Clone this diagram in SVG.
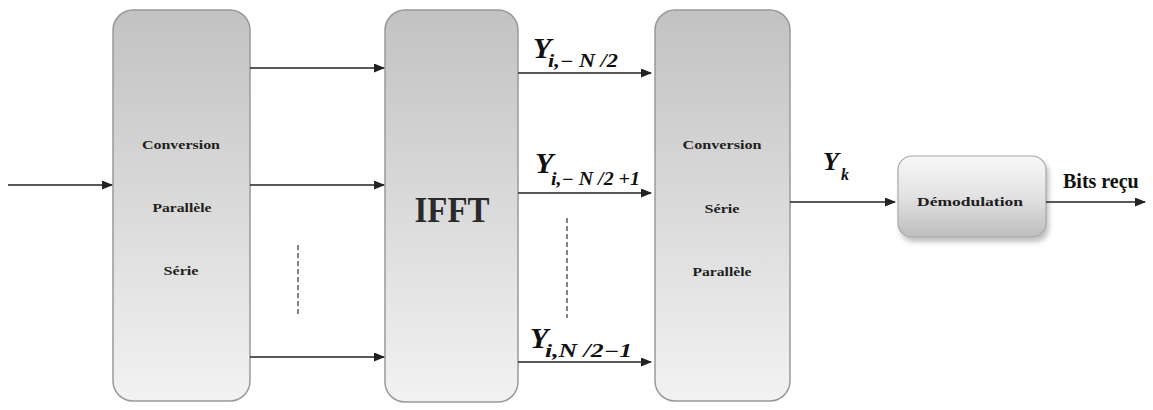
<svg xmlns="http://www.w3.org/2000/svg" width="1153" height="410" viewBox="0 0 1153 410">
<defs>
<linearGradient id="gBox" x1="0" y1="0" x2="0" y2="1">
<stop offset="0" stop-color="#c2c2c2"/>
<stop offset="1" stop-color="#f2f2f2"/>
</linearGradient>
<linearGradient id="gDemod" x1="0" y1="0" x2="0" y2="1">
<stop offset="0" stop-color="#f8f8f8"/>
<stop offset="0.5" stop-color="#e2e2e2"/>
<stop offset="1" stop-color="#bdbdbd"/>
</linearGradient>
<filter id="shadow" x="-10%" y="-10%" width="130%" height="140%">
<feGaussianBlur stdDeviation="2.5"/>
</filter>
<marker id="arr" markerWidth="11" markerHeight="9" refX="10" refY="4.5" orient="auto" markerUnits="userSpaceOnUse">
<path d="M0,0 L11,4.5 L0,9 z" fill="#222"/>
</marker>
</defs>
<style>
.box{fill:url(#gBox);stroke:#999;stroke-width:1.5}
.lbl{font-family:'Liberation Serif','Times New Roman','DejaVu Serif',serif;font-weight:bold;font-size:13px;fill:#1e1e1e;text-anchor:middle}
.big{font-family:'Liberation Serif','Times New Roman','DejaVu Serif',serif;font-weight:bold;font-size:35px;fill:#2a2a2a;text-anchor:middle}
.conn{stroke:#222;stroke-width:1.3;fill:none;marker-end:url(#arr)}
.dash{stroke:#333;stroke-width:1.2;stroke-dasharray:5,3;fill:none}
.math{font-family:'Liberation Serif','Times New Roman','DejaVu Serif',serif;font-style:italic;font-weight:bold;fill:#111}
.plain{font-family:'Liberation Serif','Times New Roman','DejaVu Serif',serif;font-weight:bold;font-size:20px;fill:#111}
</style>
<rect width="1153" height="410" fill="#fff"/>
<g id="conv1">
<rect class="box" x="113" y="10" width="137" height="391" rx="20"/>
<text class="lbl" x="181" y="149" textLength="78" lengthAdjust="spacingAndGlyphs">Conversion</text>
<text class="lbl" x="182" y="212" textLength="59" lengthAdjust="spacingAndGlyphs">Parallèle</text>
<text class="lbl" x="181" y="275" textLength="35" lengthAdjust="spacingAndGlyphs">Série</text>
</g>
<g id="ifft">
<rect class="box" x="385" y="10" width="133" height="392" rx="20"/>
<text class="big" x="452" y="222" textLength="75" lengthAdjust="spacingAndGlyphs">IFFT</text>
</g>
<g id="conv2">
<rect class="box" x="655" y="10" width="135" height="391" rx="20"/>
<text class="lbl" x="722" y="149" textLength="79" lengthAdjust="spacingAndGlyphs">Conversion</text>
<text class="lbl" x="722" y="213" textLength="35" lengthAdjust="spacingAndGlyphs">Série</text>
<text class="lbl" x="722" y="276" textLength="59" lengthAdjust="spacingAndGlyphs">Parallèle</text>
</g>
<g id="demod">
<rect x="900" y="160" width="149" height="82" rx="14" fill="#999" opacity="0.6" filter="url(#shadow)"/>
<rect x="898" y="156" width="148" height="81" rx="14" fill="url(#gDemod)" stroke="#aaa" stroke-width="1.2"/>
<text class="lbl" x="970" y="206" textLength="106" lengthAdjust="spacingAndGlyphs">Démodulation</text>
</g>
<g id="connectors">
<line class="conn" x1="8" y1="185" x2="112" y2="185"/>
<line class="conn" x1="250" y1="68" x2="384" y2="68"/>
<line class="conn" x1="250" y1="185" x2="384" y2="185"/>
<line class="conn" x1="250" y1="357" x2="384" y2="357"/>
<line class="dash" x1="298" y1="245" x2="298" y2="316"/>
<line class="conn" x1="518" y1="73" x2="651" y2="73"/>
<line class="conn" x1="518" y1="193" x2="651" y2="193"/>
<line class="conn" x1="518" y1="362" x2="651" y2="362"/>
<line class="dash" x1="567" y1="218" x2="567" y2="318"/>
<line class="conn" x1="790" y1="202" x2="895" y2="202"/>
<line class="conn" x1="1046" y1="202" x2="1145" y2="202"/>
</g>
<g id="labels">
<text class="math" x="533" y="58" font-size="30">Y</text>
<text class="math" x="548" y="67" font-size="18" textLength="70" lengthAdjust="spacingAndGlyphs">i,− N /2</text>
<text class="math" x="535" y="173" font-size="30">Y</text>
<text class="math" x="551" y="185" font-size="18" textLength="89" lengthAdjust="spacingAndGlyphs">i,− N /2 +1</text>
<text class="math" x="530" y="348" font-size="30">Y</text>
<text class="math" x="545" y="357" font-size="18" textLength="87" lengthAdjust="spacingAndGlyphs">i,N /2−1</text>
<text class="math" x="823" y="170" font-size="26">Y</text>
<text class="math" x="841" y="180" font-size="16">k</text>
<text class="plain" x="1063" y="188">Bits reçu</text>
</g>
</svg>
